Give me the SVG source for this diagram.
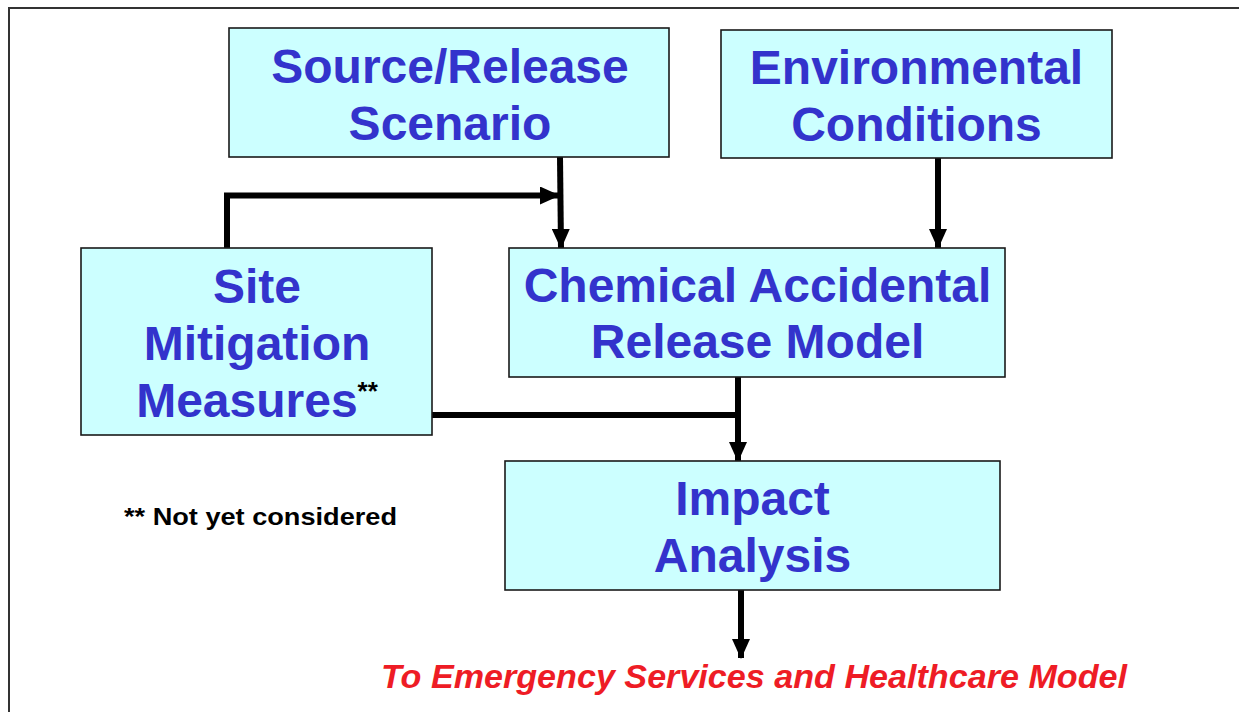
<svg xmlns="http://www.w3.org/2000/svg" width="1239" height="712" viewBox="0 0 1239 712">
<style>
.box{fill:#CCFFFF;stroke:#1a1a1a;stroke-width:1.6}
.lbl{font-family:"Liberation Sans",Arial,sans-serif;font-weight:bold;font-size:48px;fill:#3333CC;text-anchor:middle}
.conn{fill:none;stroke:#000;stroke-width:6;stroke-linejoin:miter}
.note{font-family:"Liberation Sans",Arial,sans-serif;font-weight:bold;fill:#000}
.red{font-family:"Liberation Sans",Arial,sans-serif;font-weight:bold;font-style:italic;font-size:34px;fill:#EE1C25}
</style>
<defs>
<marker id="ah" viewBox="0 0 20 18" refX="19" refY="9" markerWidth="20" markerHeight="18" markerUnits="userSpaceOnUse" orient="auto">
<path d="M0,0 L20,9 L0,18 Z" fill="#000"/>
</marker>
</defs>
<rect x="0" y="0" width="1239" height="712" fill="#fff"/>
<rect x="9" y="8" width="1245" height="720" fill="none" stroke="#333" stroke-width="2"/>

<g id="connectors">
<path class="conn" d="M560,157 L561,248" marker-end="url(#ah)"/>
<path class="conn" d="M227,248 L227,195.5 L559,195.5" marker-end="url(#ah)"/>
<path class="conn" d="M938,158 L938,248" marker-end="url(#ah)"/>
<path class="conn" d="M432,415 L738,415"/>
<path class="conn" d="M738,377 L738,461" marker-end="url(#ah)"/>
<path class="conn" d="M741,590 L741,658" marker-end="url(#ah)"/>
</g>

<g id="source">
<rect class="box" x="229" y="28" width="440" height="129"/>
<text class="lbl" x="450" y="83">Source/Release</text>
<text class="lbl" x="450" y="140">Scenario</text>
</g>

<g id="environment">
<rect class="box" x="721" y="30" width="391" height="128"/>
<text class="lbl" x="916.5" y="84">Environmental</text>
<text class="lbl" x="916.5" y="141">Conditions</text>
</g>

<g id="site">
<rect class="box" x="81" y="248" width="351" height="187"/>
<text class="lbl" x="257" y="303">Site</text>
<text class="lbl" x="257" y="360">Mitigation</text>
<text class="lbl" x="257" y="417">Measures<tspan class="note" style="font-size:26px" fill="#000" dy="-17">**</tspan></text>
</g>

<g id="chemical">
<rect class="box" x="509" y="248" width="496" height="129"/>
<text class="lbl" x="757.5" y="302">Chemical Accidental</text>
<text class="lbl" x="757.5" y="358">Release Model</text>
</g>

<g id="impact">
<rect class="box" x="505" y="461" width="495" height="129"/>
<text class="lbl" x="752.5" y="515">Impact</text>
<text class="lbl" x="752.5" y="572">Analysis</text>
</g>

<g id="note">
<text class="note" x="124" y="525" font-size="24" textLength="273" lengthAdjust="spacingAndGlyphs">** Not yet considered</text>
</g>

<g id="output">
<text class="red" x="381" y="688" textLength="746" lengthAdjust="spacingAndGlyphs">To Emergency Services and Healthcare Model</text>
</g>
</svg>
